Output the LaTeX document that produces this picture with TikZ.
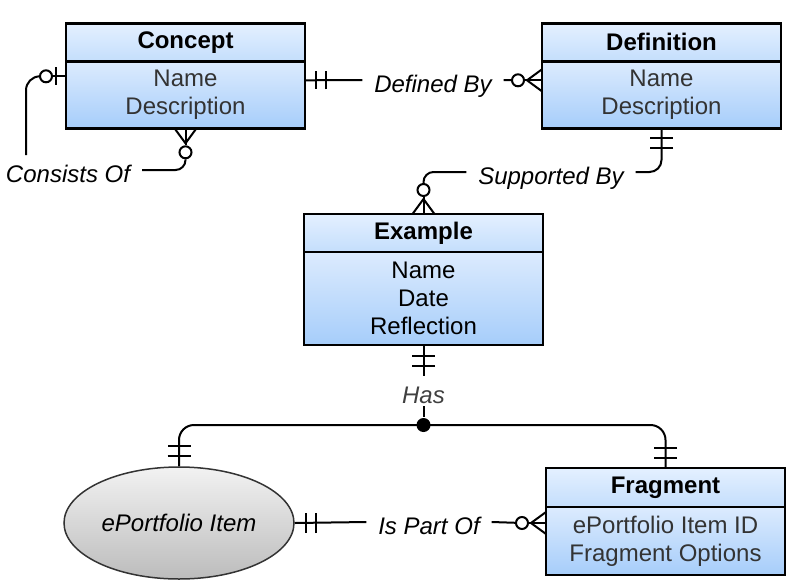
\documentclass[tikz,border=0pt]{standalone}
\usepackage{fontspec}
\setmainfont{Liberation Sans}
\usetikzlibrary{positioning,calc,shapes.geometric}
\definecolor{headtop}{RGB}{228,240,255}
\definecolor{headbot}{RGB}{196,222,252}
\definecolor{attrtop}{RGB}{220,235,254}
\definecolor{attrbot}{RGB}{166,205,250}
\definecolor{attrtext}{RGB}{51,51,51}
\definecolor{itemtop}{RGB}{242,242,242}
\definecolor{itembot}{RGB}{188,188,188}
\newcommand{\erfont}{\fontsize{24}{28}\selectfont}
\tikzset{
 ent/.style={draw, line width=2.5pt, outer sep=0pt, minimum width=239pt, align=center, inner sep=0pt},
 enthead/.style={ent, top color=headtop, bottom color=headbot, font=\erfont\bfseries, minimum height=38pt},
 entattr/.style={ent, top color=attrtop, bottom color=attrbot, text=attrtext, font=\erfont},
 rel/.style={font=\erfont\itshape, text height=24pt, text depth=0pt, inner xsep=11pt, inner ysep=2pt},
 zero/.style={circle, draw, fill=white, minimum size=12pt, inner sep=0pt},
 joint/.style={circle, fill=black, minimum size=14pt, inner sep=0pt},
 item/.style={ellipse, draw=black!80, line width=1.5pt, top color=itemtop, bottom color=itembot, minimum width=230pt, minimum height=112pt, font=\erfont\itshape, inner sep=0pt}
}
\begin{document}
\begin{tikzpicture}[x=1pt,y=-1pt,line width=2pt]
\pgfmathsetmacro{\toe}{11}       %half spread of crow's foot
 \pgfmathsetmacro{\heel}{15}     %length of crow's foot
 \pgfmathsetmacro{\ring}{24}     %distance of optional ring from entity
\useasboundingbox (0,0) rectangle (795,584);
%entities
\node[enthead] (concept) at (185.5,42.3) {Concept};
\node[entattr, minimum height=67pt, below=0pt of concept] (conceptattr) {Name\\Description};
\node[enthead] (definition) at (661.5,42.3) {Definition};
\node[entattr, minimum height=67pt, below=0pt of definition] (definitionattr) {Name\\Description};
\node[enthead] (example) at (423.5,233) {Example};
\node[entattr, text=black, minimum height=93pt, below=0pt of example] (exampleattr) {Name\\Date\\Reflection};
\node[enthead, minimum height=39pt] (fragment) at (665.5,487.5) {Fragment};
\node[entattr, minimum height=68pt, below=0pt of fragment] (fragmentattr) {ePortfolio Item ID\\Fragment Options};
\node[item] (item) at (179,523) {ePortfolio Item};
%relationship labels
\node[rel] (consists) at (68,170) {Consists Of};
\node[rel] (definedby) at (433,80) {Defined By};
\node[rel] (supportedby) at (551,172) {Supported By};
\node[rel, text=black!75] (has) at (423.5,391) {Has};
\node[rel] (ispartof) at (429,522) {Is Part Of};

%consists of (concept to itself)
\coordinate (cl) at ($(conceptattr.north west)+(0,15)$);
\coordinate (cv) at ($(cl)+(-40,0)$);
\node[zero] (cz) at ($(cl)+(-20,0)$) {};
\draw (cl) -- (cz);
\draw ($(cl)+(-10,-9)$) -- ++(0,18);
\draw[rounded corners=14] (cz.west) -| (cv |- consists.north);
\node[zero] (cz2) at ($(conceptattr.south)+(0,\ring)$) {};
\draw (conceptattr.south) -- (cz2);
\draw ($(conceptattr.south)+(-\toe,0)$) --++(\toe,\heel) --++(\toe,-\heel);
\draw[rounded corners=10] (consists.east) -| (cz2.south);

%defined by
\coordinate (db1) at ($(conceptattr.north east)+(0,19)$);
\coordinate (db2) at ($(definitionattr.north west)+(0,19)$);
\draw (db1) -- (definedby.west);
\draw ($(db1)+(11,-9)$) -- ++(0,18) ++(10,0) -- ++(0,-18);
\node[zero] (dbz) at ($(db2)+(-\ring,0)$) {};
\draw (definedby.east) -- (dbz);
\draw (dbz) -- (db2);
\draw ($(db2)+(0,-\toe)$) --++(-\heel,\toe) --++(\heel,\toe);

%supported by
\draw[rounded corners=12] (definitionattr.south) |- (supportedby.east);
\draw ($(definitionattr.south)+(-11.5,10)$) -- ++(23,0) ++(0,10) -- ++(-23,0);
\node[zero] (sbz) at ($(example.north)+(0,-\ring)$) {};
\draw[rounded corners=10] (supportedby.west) -| (sbz.north);
\draw (example.north) -- (sbz);
\draw ($(example.north)+(-\toe,0)$) --++(\toe,-\heel) --++(\toe,\heel);

%has (example to item and fragment)
\draw (exampleattr.south) -- (has.north);
\draw ($(exampleattr.south)+(-11.5,11)$) -- ++(23,0) ++(0,10) -- ++(-23,0);
\node[joint] (hasdot) at (423.5,425) {};
\draw (has.south) -- (hasdot);
\draw[rounded corners=15] (item.north) |- (hasdot.center) -| (fragment.north);
\draw ($(item.north)+(-11.5,-10)$) -- ++(23,0) ++(0,-10) -- ++(-23,0);
\draw ($(fragment.north)+(-11.5,-10)$) -- ++(23,0) ++(0,-10) -- ++(-23,0);

%is part of
\coordinate (ip2) at (fragmentattr.west |- item.east);
\draw (item.east) -- (ispartof.west);
\draw ($(item.east)+(11,-10)$) -- ++(0,20) ++(10,0) -- ++(0,-20);
\node[zero] (ipz) at ($(ip2)+(-\ring,0)$) {};
\draw (ispartof.east) -- (ipz);
\draw (ipz) -- (ip2);
\draw ($(ip2)+(0,-\toe)$) --++(-\heel,\toe) --++(\heel,\toe);
\end{tikzpicture}
\end{document}
